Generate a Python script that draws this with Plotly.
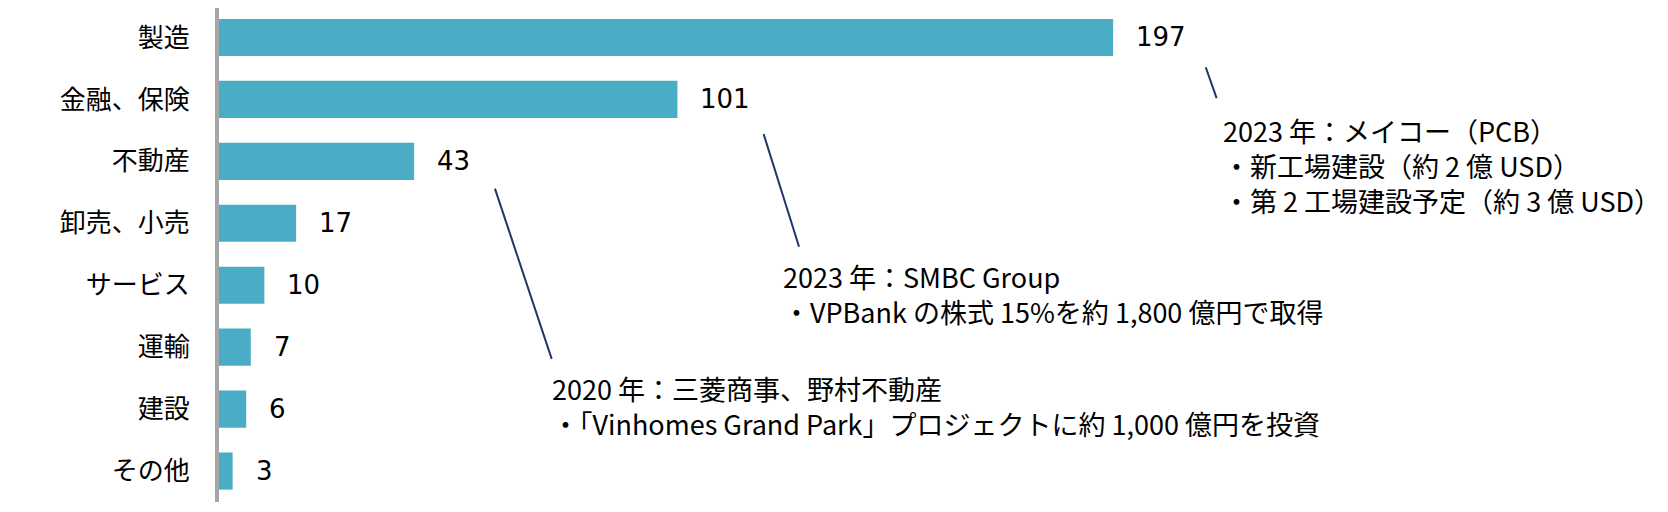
import plotly.graph_objects as go

# industry breakdown
categories = ["製造", "金融、保険", "不動産", "卸売、小売", "サービス", "運輸", "建設", "その他"]
values = [197, 101, 43, 17, 10, 7, 6, 3]

# call-out notes
notes = [
    "2023 年：メイコー（PCB）<br>・新工場建設（約 2 億 USD）<br>・第 2 工場建設予定（約 3 億 USD）",
    "2023 年：SMBC Group<br>・VPBank の株式 15%を約 1,800 億円で取得",
    "2020 年：三菱商事、野村不動産<br>・「Vinhomes Grand Park」プロジェクトに約 1,000 億円を投資",
]
note_x = [220.7, 123.8, 72.9]
note_y = [2.07, 4.14, 5.95]
# leader lines: (x0, y0, x1, y1) in data units
leaders = [
    (217.4, 0.48, 219.8, 0.98),
    (120.0, 1.56, 127.8, 3.38),
    (60.8, 2.44, 73.3, 5.19),
]

BAR_COLOR = "#4BACC6"
LINE_COLOR = "#1F3864"
JP_FONT = "Noto Sans CJK JP"

fig = go.Figure(go.Bar(
    x=values,
    y=list(range(len(categories))),
    orientation="h",
    marker=dict(color=BAR_COLOR, line=dict(width=0)),
    hoverinfo="skip",
))

# value labels next to the bars
for i, v in enumerate(values):
    fig.add_annotation(
        x=v, y=i, text=str(v), showarrow=False,
        xanchor="left", xshift=21,
        font=dict(family="DejaVu Sans", size=26, color="#000000"),
    )

for txt, x, y in zip(notes, note_x, note_y):
    fig.add_annotation(
        x=x, y=y, text=txt, showarrow=False,
        xanchor="left", yanchor="middle", align="left",
        font=dict(family=JP_FONT, size=27, color="#000000"),
    )

for x0, y0, x1, y1 in leaders:
    fig.add_shape(type="line", x0=x0, y0=y0, x1=x1, y1=y1,
                  line=dict(color=LINE_COLOR, width=2))

# page has an 8px body margin, so the figure is a bit smaller than the window
fig.update_layout(
    width=1660, height=504,
    margin=dict(l=211, r=42, t=0, b=9.5),
    plot_bgcolor="white", paper_bgcolor="white",
    bargap=0.40,
    showlegend=False,
)
fig.update_xaxes(range=[0, 310], visible=False)
fig.update_yaxes(
    range=[7.5, -0.476],
    tickmode="array",
    tickvals=list(range(len(categories))),
    ticktext=categories,
    showgrid=False, zeroline=False,
    showline=True, linecolor="#A6A6A6", linewidth=4,
    ticks="", ticklabelstandoff=20,
    tickfont=dict(family=JP_FONT, size=26, color="#000000"),
)

fig.write_html("out.html")
